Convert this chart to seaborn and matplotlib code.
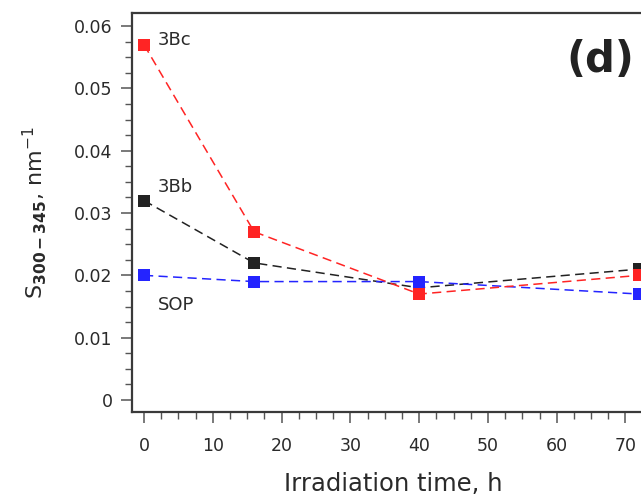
import matplotlib
matplotlib.use("Agg")
import matplotlib.pyplot as plt
import seaborn as sns
import pandas as pd
from matplotlib.ticker import MultipleLocator

# Data
time_h = [0, 16, 40, 72]
s_3Bc = [0.057, 0.027, 0.017, 0.020]
s_3Bb = [0.032, 0.022, 0.018, 0.021]
s_SOP = [0.020, 0.019, 0.019, 0.017]
series_names = ["3Bc", "3Bb", "SOP"]
colors = {"3Bc": "#ff2424", "3Bb": "#222222", "SOP": "#2424ff"}

df = pd.concat([
    pd.DataFrame({"time": time_h, "S": vals, "series": name})
    for name, vals in zip(series_names, [s_3Bc, s_3Bb, s_SOP])
])

sns.set_theme(style="ticks")
plt.rcParams['font.family'] = ['DejaVu Sans']

fig = plt.figure(figsize=(6.41, 4.99), dpi=100)
ax = fig.add_axes([132/641, 87/499, 521/641, 399/499])

for name in ["3Bb", "SOP", "3Bc"]:
    sub = df[df.series == name]
    sns.lineplot(data=sub, x="time", y="S", ax=ax, color=colors[name],
                 marker="s", markersize=8.5, markeredgewidth=0,
                 linewidth=1.1, linestyle=(0, (6, 3.5)), legend=False,
                 zorder=3)

ax.set_xlim(-1.75, 74)
ax.set_ylim(-0.00193, 0.0621)
ax.xaxis.set_major_locator(MultipleLocator(10))
ax.xaxis.set_minor_locator(MultipleLocator(2.5))
ax.yaxis.set_major_locator(MultipleLocator(0.01))
ax.yaxis.set_minor_locator(MultipleLocator(0.0025))
ax.set_yticks([0, 0.01, 0.02, 0.03, 0.04, 0.05, 0.06])
ax.set_yticklabels(["0", "0.01", "0.02", "0.03", "0.04", "0.05", "0.06"])

spine_c = "#3a3a3a"
for s in ["left", "bottom", "top"]:
    ax.spines[s].set_color(spine_c)
    ax.spines[s].set_linewidth(1.6)
ax.spines["right"].set_visible(False)

ax.tick_params(axis="both", which="major", direction="out", length=8, width=1.1,
               color="#555555", labelsize=12.5, labelcolor="#2a2a2a", pad=6)
ax.tick_params(axis="both", which="minor", direction="out", length=5, width=1.0,
               color="#555555")
ax.tick_params(axis="x", pad=10)

ax.set_xlabel("Irradiation time, h", fontsize=17.5, color="#2a2a2a")
ax.set_ylabel(r"S$_{\mathbf{300-345}}$, nm$^{-1}$", fontsize=16, color="#2a2a2a", labelpad=18)
ax.xaxis.set_label_coords((393-132)/521, -60/399)

ax.text(2.0, 0.0578, "3Bc", fontsize=13, color="#2a2a2a", va="center", ha="left")
ax.text(2.0, 0.0341, "3Bb", fontsize=13, color="#2a2a2a", va="center", ha="left")
ax.text(2.0, 0.0153, "SOP", fontsize=13, color="#2a2a2a", va="center", ha="left")
ax.text(66.3, 0.0545, "(d)", fontsize=30, fontweight="bold", color="#222222",
        va="center", ha="center")

fig.savefig("out.png", dpi=100)
